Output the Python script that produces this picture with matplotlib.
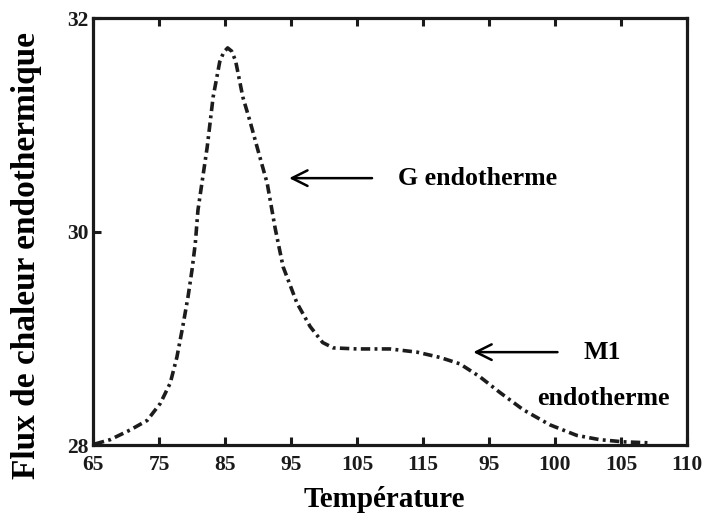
import matplotlib
matplotlib.use("Agg")
import matplotlib.pyplot as plt

# Positions along the x axis (tick index units) and heat-flow values
pos = [0.03, 0.26, 0.56, 0.82, 1.02, 1.17, 1.27, 1.36, 1.44, 1.50, 1.55, 1.59,
       1.73, 1.82, 1.92, 1.98, 2.04, 2.10, 2.16, 2.27, 2.38, 2.50, 2.64, 2.76,
       2.88, 3.09, 3.29, 3.48, 3.64, 4.00, 4.50, 4.91, 5.26, 5.56, 5.86, 6.17,
       6.52, 6.92, 7.33, 7.68, 8.03, 8.44]
flux = [28.01, 28.05, 28.14, 28.23, 28.39, 28.58, 28.82, 29.11, 29.39, 29.64,
        29.89, 30.20, 30.79, 31.26, 31.59, 31.68, 31.72, 31.69, 31.60, 31.26,
        31.03, 30.76, 30.45, 30.03, 29.67, 29.33, 29.11, 28.96, 28.91, 28.90,
        28.90, 28.87, 28.82, 28.76, 28.64, 28.49, 28.33, 28.19, 28.09, 28.05,
        28.03, 28.02]

xtick_labels = ["65", "75", "85", "95", "105", "115", "95", "100", "105", "110"]
yticks = [28, 30, 32]

plt.rcParams['font.family'] = ['Liberation Serif', 'DejaVu Serif']
plt.rcParams['font.weight'] = 'bold'

fig = plt.figure(figsize=(7.02, 5.15), dpi=100)
ax = fig.add_axes([0.1325, 0.1359, 0.8461, 0.8291])

ax.plot(pos, flux, color='#1c1c1c', linewidth=2.6,
        linestyle=(0, (2.6, 1.2, 0.8, 1.2)))

ax.set_xlim(0, len(xtick_labels) - 1)
ax.set_ylim(28, 32)
ax.set_xticks(range(len(xtick_labels)))
ax.set_xticklabels(xtick_labels)
ax.set_yticks(yticks)
ax.set_yticklabels([str(v) for v in yticks])

for s in ax.spines.values():
    s.set_linewidth(2.3)
    s.set_color('#1a1a1a')

ax.tick_params(axis='x', direction='in', length=6, width=2.2, top=True,
               labelsize=15.5, pad=7, colors='#1a1a1a')
ax.tick_params(axis='y', direction='in', length=6, width=2.2, right=False,
               labelsize=15.5, pad=3, colors='#1a1a1a')
for lab in ax.get_xticklabels() + ax.get_yticklabels():
    lab.set_fontweight('bold')

ax.set_xlabel("Température", fontsize=21, fontweight='bold')
ax.xaxis.set_label_coords(0.49, -0.097)
ax.set_ylabel("Flux de chaleur endothermique", fontsize=24, fontweight='bold')
ax.yaxis.set_label_coords(-0.086, 0.445)

# annotations
ax.annotate("", xy=(2.93, 30.5), xytext=(4.27, 30.5),
            arrowprops=dict(arrowstyle='->', color='black', lw=1.8,
                            mutation_scale=28))
ax.text(4.62, 30.5, "G endotherme", fontsize=18.6, fontweight='bold',
        ha='left', va='center')
ax.annotate("", xy=(5.72, 28.87), xytext=(7.08, 28.87),
            arrowprops=dict(arrowstyle='->', color='black', lw=1.8,
                            mutation_scale=28))
ax.text(7.72, 28.87, "M1", fontsize=18.6, fontweight='bold',
        ha='center', va='center')
ax.text(7.74, 28.44, "endotherme", fontsize=18.6, fontweight='bold',
        ha='center', va='center')

fig.savefig("out.png", dpi=100)
